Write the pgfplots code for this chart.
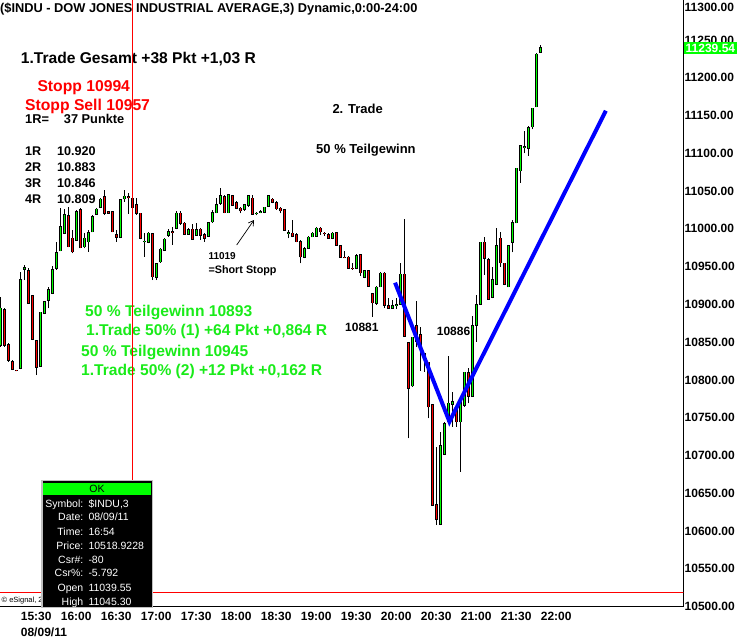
\documentclass[border=0pt]{standalone}
\usepackage{pgfplots}
\pgfplotsset{compat=1.18}
\usepackage{pgfplotstable}
\usepackage{fontspec}
\setmainfont{Liberation Sans}
\usetikzlibrary{arrows.meta}
\definecolor{lime}{RGB}{0,255,0}
\definecolor{cred}{RGB}{255,0,0}
\definecolor{tgreen}{RGB}{25,235,25}
\definecolor{cblue}{RGB}{0,0,255}
\definecolor{bordergray}{RGB}{192,192,192}
\newcommand{\fs}[1]{\fontsize{#1}{#1}\selectfont}

% k open high low close  (3-minute bars, k=5 is 15:30 on 08/09/11)
\pgfplotstableread{
k o h l c
0 10846.2 10910.2 10844.0 10894.7
1 10892.5 10894.7 10844.0 10846.2
2 10846.2 10848.4 10824.1 10826.4
3 10824.1 10826.4 10813.1 10814.0
4 10812.5 10813.1 10811.4 10812.0
5 10815.3 10943.3 10814.0 10932.2
6 10946.5 10952.1 10932.2 10948.5
7 10944.6 10947.7 10900.5 10901.4
8 10911.1 10912.4 10852.8 10853.7
9 10851.9 10852.8 10806.5 10816.6
10 10818.4 10890.3 10817.5 10889.4
11 10888.1 10904.9 10887.2 10903.6
12 10905.8 10923.4 10894.7 10919.0
13 10914.6 10950.8 10913.7 10945.5
14 10947.7 10983.0 10945.5 10968.4
15 10971.1 11027.1 10970.2 11002.8
16 10994.0 11025.8 10993.1 11018.3
17 11017.0 11029.3 10975.5 10976.4
18 10987.4 10998.4 10967.5 10969.7
19 10985.2 11024.9 10984.3 11022.7
20 11024.9 11027.1 10974.2 10975.0
21 10976.4 10994.0 10974.2 10987.4
22 10983.0 10998.4 10969.7 10994.9
23 10996.2 11018.3 10995.3 11016.1
24 11019.6 11027.1 11018.7 11025.8
25 11028.4 11040.3 11027.5 11039.0
26 11042.5 11051.4 11018.3 11020.5
27 11022.2 11023.1 11019.6 11020.5
28 11022.7 11024.0 10995.3 10996.2
29 10991.8 10998.4 10983.0 10988.7
30 10988.7 11039.0 10987.8 11038.1
31 11040.0 11052.0 11036.0 11043.0
32 11042.0 11048.0 11020.0 11041.0
33 11039.55 11045.30 11017.0 11028.0
34 11031.5 11040.3 11018.3 11020.5
35 11020.5 11021.4 10986.1 10987.4
36 10983.0 10994.0 10963.1 10983.5
37 10982.1 10996.2 10980.8 10994.0
38 10993.1 10994.0 10932.2 10936.7
39 10935.8 10954.3 10932.2 10953.4
40 10956.5 10974.2 10955.2 10972.8
41 10971.9 10987.4 10971.1 10986.1
42 10991.8 10999.3 10989.6 10996.2
43 10996.2 11002.8 10978.6 10995.8
44 11000.6 11024.0 10999.3 11020.5
45 11020.5 11024.0 11005.0 11007.2
46 11007.2 11009.4 10991.8 10992.7
47 10993.1 11000.6 10991.8 10998.4
48 10999.3 11006.4 10985.2 10986.1
49 10991.8 11007.2 10990.5 10998.4
50 10999.3 11000.6 10985.2 10991.8
51 10991.8 10994.0 10983.0 10987.4
52 10990.5 11009.4 10989.6 11008.1
53 11009.4 11024.9 11008.1 11021.4
54 11021.4 11040.3 11020.5 11031.5
55 11033.7 11053.6 11031.5 11043.4
56 11042.5 11044.7 11020.5 11021.4
57 11021.4 11046.1 11020.5 11044.7
58 11043.4 11044.7 11030.2 11031.5
59 11034.6 11037.2 11025.8 11027.1
60 11027.1 11029.3 11020.5 11024.0
61 11025.8 11032.8 11024.0 11031.5
62 11031.5 11044.7 11029.3 11043.4
63 11040.3 11044.7 11019.2 11019.6
64 11020.0 11022.7 11017.8 11020.5
65 11022.2 11024.9 11020.5 11022.7
66 11022.2 11029.3 11020.5 11028.4
67 11030.2 11044.7 11029.3 11043.4
68 11039.0 11040.3 11033.7 11035.5
69 11034.6 11037.2 11024.9 11026.7
70 11027.1 11028.4 11020.5 11024.0
71 11024.9 11025.8 10997.5 10998.4
72 10994.0 10998.4 10987.4 10994.5
73 10994.0 11011.7 10988.7 10990.5
74 10991.8 10994.0 10982.1 10983.0
75 10983.0 10985.2 10954.3 10963.1
76 10962.2 10976.4 10960.9 10973.3
77 10974.2 10990.5 10973.3 10988.7
78 10989.6 10996.2 10988.7 10994.0
79 10990.5 11002.8 10989.6 11000.6
80 11000.6 11002.8 10991.8 10996.2
81 10994.0 10996.2 10990.5 10993.6
82 10991.8 10994.0 10986.5 10987.4
83 10987.4 10995.3 10986.1 10994.0
84 10994.9 10996.2 10977.7 10978.6
85 10977.2 10978.6 10961.4 10962.2
86 10962.2 10971.1 10960.9 10961.8
87 10962.2 10964.0 10946.8 10947.7
88 10947.7 10954.3 10945.5 10947.3
89 10947.7 10966.7 10946.4 10964.0
90 10965.3 10966.7 10938.0 10942.0
91 10935.8 10945.5 10934.5 10944.6
92 10944.2 10945.5 10923.4 10924.3
93 10913.7 10914.6 10883.7 10902.2
94 10901.4 10924.3 10899.2 10922.5
95 10923.4 10943.3 10922.5 10941.1
96 10941.1 10943.3 10894.8 10899.2
97 10897.8 10908.0 10893.9 10894.8
98 10894.8 10905.8 10893.9 10898.3
99 10899.2 10908.0 10893.9 10899.6
100 10900.0 10954.3 10899.2 10939.8
101 10939.8 11012.5 10857.3 10858.1
102 10849.3 10850.6 10722.7 10788.9
103 10792.4 10857.3 10791.1 10856.4
104 10871.8 10904.9 10844.0 10850.6
105 10860.0 10870.0 10812.0 10845.0
106 10834.3 10836.0 10810.9 10827.2
107 10823.2 10824.1 10749.1 10764.5
108 10766.8 10767.6 10633.0 10634.4
109 10634.4 10711.6 10607.9 10615.4
110 10609.3 10731.5 10607.9 10712.5
111 10701.9 10744.7 10700.6 10741.6
112 10744.7 10831.6 10743.4 10769.0
113 10768.1 10784.4 10738.1 10771.2
114 10762.3 10765.4 10738.1 10744.7
115 10744.7 10775.6 10678.5 10774.3
116 10766.8 10810.9 10764.5 10810.0
117 10809.6 10815.3 10769.0 10778.7
118 10778.7 10884.6 10777.8 10871.3
119 10872.6 10912.4 10850.6 10899.1
120 10900.4 10983.0 10899.1 10982.1
121 10982.1 10988.7 10938.9 10960.9
122 10958.7 10960.9 10905.8 10906.6
123 10909.3 10949.9 10907.9 10932.2
124 10926.9 11000.6 10925.6 10977.2
125 10987.4 10995.3 10949.9 10955.2
126 10954.3 10955.2 10925.6 10926.5
127 10923.4 10978.6 10922.5 10977.7
128 10982.1 11011.7 10968.9 11008.1
129 11008.1 11080.9 11007.2 11080.0
130 11077.0 11110.9 11061.1 11109.6
131 11107.8 11129.9 11099.9 11108.2
132 11106.5 11136.1 11096.4 11133.9
133 11135.2 11160.3 11131.7 11159.5
134 11161.7 11233.1 11160.8 11230.9
135 11233.6 11243.3 11233.1 11239.54
}\candles

\begin{document}
\begin{tikzpicture}[x=1pt,y=1pt]
\begin{axis}[at={(0,0)}, anchor=south west, scale only axis,
  width=683.3pt, height=606.6pt,
  xmin=-0.1675, xmax=170.66, ymin=10500, ymax=11302.8,
  axis x line*=bottom, axis y line*=right,
  axis line style={black, line width=1pt},
  tick style={draw=none}, major tick length=0pt,
  xtick={5,15,...,135},
  xticklabels={15:30,16:00,16:30,17:00,17:30,18:00,18:30,19:00,19:30,20:00,20:30,21:00,21:30,22:00},
  ytick={10500,10550,...,11250},
  yticklabels={10500.00,10550.00,10600.00,10650.00,10700.00,10750.00,10800.00,10850.00,10900.00,10950.00,11000.00,11050.00,11100.00,11150.00,11200.00,11250.00},
  extra y ticks={11300}, extra y tick labels={11300.00},
  extra y tick style={yticklabel style={yshift=-5.2pt}},
  xticklabel style={anchor=base west, inner sep=0pt, yshift=-14.1pt, font=\fs{12}\bfseries},
  yticklabel style={anchor=west, inner sep=0pt, xshift=1.2pt, font=\fs{12}\bfseries},
]
% wicks
\addplot[draw=none, mark=none, forget plot, error bars/.cd, y dir=plus, y explicit, error mark=none,
  error bar style={draw=black, line width=1pt}]
  table[x=k, y=l, y error plus expr=\thisrow{h}-\thisrow{l}] {\candles};
% body outlines
\addplot[draw=none, mark=none, forget plot, error bars/.cd, y dir=plus, y explicit, error mark=none,
  error bar style={draw=black, line width=3.2pt}]
  table[x=k, y expr={min(\thisrow{o},\thisrow{c})-0.8}, y error plus expr={abs(\thisrow{c}-\thisrow{o})+1.6}] {\candles};
% rising bodies
\addplot[draw=none, mark=none, forget plot, restrict expr to domain={\thisrow{c}-\thisrow{o}}{0:5000},
  error bars/.cd, y dir=plus, y explicit, error mark=none,
  error bar style={draw=lime, line width=1.4pt}]
  table[x=k, y=o, y error plus expr=\thisrow{c}-\thisrow{o}] {\candles};
% falling bodies
\addplot[draw=none, mark=none, forget plot, restrict expr to domain={\thisrow{o}-\thisrow{c}}{0.001:5000},
  error bars/.cd, y dir=plus, y explicit, error mark=none,
  error bar style={draw=cred, line width=1.4pt}]
  table[x=k, y=c, y error plus expr=\thisrow{o}-\thisrow{c}] {\candles};
% highlighted cursor bar
\addplot[draw=none, mark=none, forget plot, error bars/.cd, y dir=plus, y explicit, error mark=none,
  error bar style={draw=cyan, line width=1.6pt}]
  coordinates {(33,11017) +- (0,28.3)};
% blue trend lines
\addplot[cblue, line width=4pt, forget plot] coordinates {(98.6,10928.7) (112.2,10744.7) (151.3,11156.3)};
\end{axis}

% annotations
\begin{scope}[every node/.style={anchor=base west, inner sep=0pt}]
\node[font=\fs{12.8}\bfseries] at (0,593.9) {(\$INDU - DOW JONES INDUSTRIAL AVERAGE,3) Dynamic,0:00-24:00};
\node[font=\fs{15.6}\bfseries] at (20.7,543.3) {1.Trade Gesamt +38 Pkt +1,03 R};
\node[font=\fs{15.7}\bfseries, text=cred] at (37.3,514.9) {Stopp 10994};
\node[font=\fs{15.7}\bfseries, text=cred] at (25,495.9) {Stopp Sell 10957};
\node[font=\fs{12.8}\bfseries] at (25,482.6) {1R=};
\node[font=\fs{12.8}\bfseries] at (63.7,482.6) {37 Punkte};
\node[font=\fs{12.6}\bfseries] at (25,450.6) {1R};
\node[font=\fs{12.6}\bfseries] at (57,450.6) {10.920};
\node[font=\fs{12.6}\bfseries] at (25,434.6) {2R};
\node[font=\fs{12.6}\bfseries] at (57,434.6) {10.883};
\node[font=\fs{12.6}\bfseries] at (25,418.6) {3R};
\node[font=\fs{12.6}\bfseries] at (57,418.6) {10.846};
\node[font=\fs{12.6}\bfseries] at (25,402.6) {4R};
\node[font=\fs{12.6}\bfseries] at (57,402.6) {10.809};
\node[font=\fs{13}\bfseries] at (332.3,492.6) {2. Trade};
\node[font=\fs{13}\bfseries] at (316,452.6) {50 \% Teilgewinn};
\node[font=\fs{10}\bfseries] at (208.3,347.3) {11019};
\node[font=\fs{10.8}\bfseries] at (208.3,333.3) {=Short Stopp};
\node[font=\fs{15.6}\bfseries, text=tgreen] at (85,289.9) {50 \% Teilgewinn 10893};
\node[font=\fs{15.6}\bfseries, text=tgreen] at (86,270.6) {1.Trade 50\% (1) +64 Pkt +0,864 R};
\node[font=\fs{15.6}\bfseries, text=tgreen] at (81,250.6) {50 \% Teilgewinn 10945};
\node[font=\fs{15.6}\bfseries, text=tgreen] at (81,231.6) {1.Trade 50\% (2) +12 Pkt +0,162 R};
\node[font=\fs{12}\bfseries] at (345,274.9) {10881};
\node[font=\fs{12}\bfseries] at (436.7,270.6) {10886};
\node[font=\fs{12}\bfseries] at (20.7,-30.1) {08/09/11};
\node[font=\fs{7.5}] at (1.5,3.9) {© eSignal, 2011};
\end{scope}
\draw[line width=0.7pt, -{Straight Barb[length=5pt,width=6pt]}] (236.7,361.6) -- (254,386.6);

% cursor lines (overlay axis)
\begin{axis}[at={(0,0)}, anchor=south west, scale only axis,
  width=683.3pt, height=606.6pt,
  xmin=-0.1675, xmax=170.66, ymin=10500, ymax=11302.8, hide axis]
\addplot[cred, line width=1pt] coordinates {(33,10500) (33,11302.8)};
\addplot[cred, line width=1pt] coordinates {(-1,10518.92) (172,10518.92)};
\end{axis}

% last price box
\fill[lime] (683.8,552.6) rectangle (737,564.9);
\node[font=\fs{12}\bfseries, text=white, inner sep=0pt] at (710.4,558.7) {11239.54};

% data window
\filldraw[fill=black, draw=bordergray, line width=1.5pt] (41.8,-1.1) rectangle (152.6,126.2);
\fill[lime] (43.3,111.6) rectangle (151.4,123.9);
\node[anchor=base, inner sep=0pt, font=\fs{10.5}] at (97,114.3) {OK};
\begin{scope}[every node/.style={inner sep=0pt, font=\fs{10.5}, text=white}]
\node[anchor=base east] at (83.5,99.3) {Symbol:}; \node[anchor=base west] at (88.3,99.3) {\$INDU,3};
\node[anchor=base east] at (83.5,85.9) {Date:};   \node[anchor=base west] at (88.3,85.9) {08/09/11};
\node[anchor=base east] at (83.5,71.6) {Time:};   \node[anchor=base west] at (88.3,71.6) {16:54};
\node[anchor=base east] at (83.5,57.6) {Price:};  \node[anchor=base west] at (88.3,57.6) {10518.9228};
\node[anchor=base east] at (83.5,43.3) {Csr\#:};  \node[anchor=base west] at (88.3,43.3) {-80};
\node[anchor=base east] at (83.5,29.9) {Csr\%:};  \node[anchor=base west] at (88.3,29.9) {-5.792};
\node[anchor=base east] at (83.5,15.3) {Open};    \node[anchor=base west] at (88.3,15.3) {11039.55};
\node[anchor=base east] at (83.5,1.6) {High};     \node[anchor=base west] at (88.3,1.6) {11045.30};
\end{scope}

\pgfresetboundingbox
\path[use as bounding box] (0,-31.4) rectangle (739,606.6);
\end{tikzpicture}
\end{document}
